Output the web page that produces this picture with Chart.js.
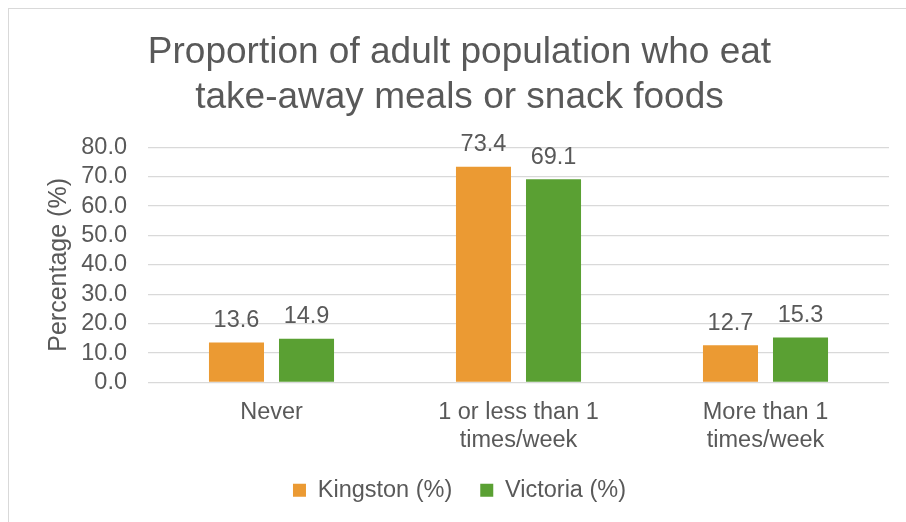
<!DOCTYPE html>
<html>
<head>
<meta charset="utf-8">
<script src="https://cdn.jsdelivr.net/npm/chart.js@4"></script>
<style>
  html, body { margin: 0; padding: 0; background: #fff; }
  #frame {
    position: absolute; left: 8px; top: 8px;
    width: 1000px; height: 1000px;
    border: 1.5px solid #d9d9d9;
  }
  #wrap { position: absolute; left: 0; top: 0; width: 906px; height: 522px; }
</style>
</head>
<body>
<div id="frame"></div>
<div id="wrap"><canvas id="chart"></canvas></div>
<script>
// 数据
const categories = ['Never', ['1 or less than 1', 'times/week'], ['More than 1', 'times/week']];
const kingstonValues = [13.6, 73.4, 12.7];
const victoriaValues = [14.9, 69.1, 15.3];
const yTicks = [0, 10, 20, 30, 40, 50, 60, 70, 80];

const textColor = '#595959';
const fontFamily = '"Liberation Sans", Arial, sans-serif';

// 柱顶数值标签
const valueLabels = {
    id: 'valueLabels',
    afterDatasetsDraw(chart) {
        const ctx = chart.ctx;
        ctx.save();
        ctx.font = '23.5px ' + fontFamily;
        ctx.fillStyle = textColor;
        ctx.textAlign = 'center';
        ctx.textBaseline = 'middle';
        chart.data.datasets.forEach((ds, i) => {
            chart.getDatasetMeta(i).data.forEach((bar, j) => {
                ctx.fillText(ds.data[j].toFixed(1), bar.x, bar.y - 22);
            });
        });
        ctx.restore();
    }
};

new Chart(document.getElementById('chart'), {
    type: 'bar',
    data: {
        labels: categories,
        datasets: [
            {
                label: 'Kingston (%)',
                data: kingstonValues,
                backgroundColor: '#EB9A33',
                categoryPercentage: 0.567,
                barPercentage: 0.786
            },
            {
                label: 'Victoria (%)',
                data: victoriaValues,
                backgroundColor: '#5AA033',
                categoryPercentage: 0.567,
                barPercentage: 0.786
            }
        ]
    },
    options: {
        responsive: true,
        maintainAspectRatio: false,
        animation: false,
        layout: { padding: { top: 10, left: 30, right: 17, bottom: 10 } },
        plugins: {
            title: {
                display: true,
                text: ['Proportion of adult population who eat', 'take-away meals or snack foods'],
                color: textColor,
                font: { family: fontFamily, size: 37, weight: 'normal', lineHeight: 1.22 },
                padding: { top: 20, bottom: 27 }
            },
            legend: {
                position: 'bottom',
                labels: {
                    color: textColor,
                    font: { family: fontFamily, size: 23.5 },
                    boxWidth: 13,
                    boxHeight: 13,
                    padding: 28
                }
            },
            tooltip: { enabled: false }
        },
        scales: {
            x: {
                grid: { display: false },
                border: { display: false },
                afterFit(scale) {
                    scale.height = 68;
                },
                ticks: {
                    color: textColor,
                    font: { family: fontFamily, size: 23.5 },
                    padding: 8,
                    maxRotation: 0
                }
            },
            y: {
                min: 0,
                max: 80,
                afterBuildTicks(scale) {
                    scale.ticks = yTicks.map(v => ({ value: v }));
                },
                afterFit(scale) {
                    scale.width = 118;
                },
                grid: { color: '#d9d9d9', lineWidth: 1.3, drawTicks: false },
                border: { display: false },
                ticks: {
                    color: textColor,
                    font: { family: fontFamily, size: 23.5 },
                    padding: 21,
                    autoSkip: false,
                    callback: v => v.toFixed(1)
                },
                title: {
                    display: true,
                    text: 'Percentage (%)',
                    color: textColor,
                    font: { family: fontFamily, size: 25 },
                    padding: { top: 14, bottom: 0 }
                }
            }
        }
    },
    plugins: [valueLabels]
});
</script>
</body>
</html>
